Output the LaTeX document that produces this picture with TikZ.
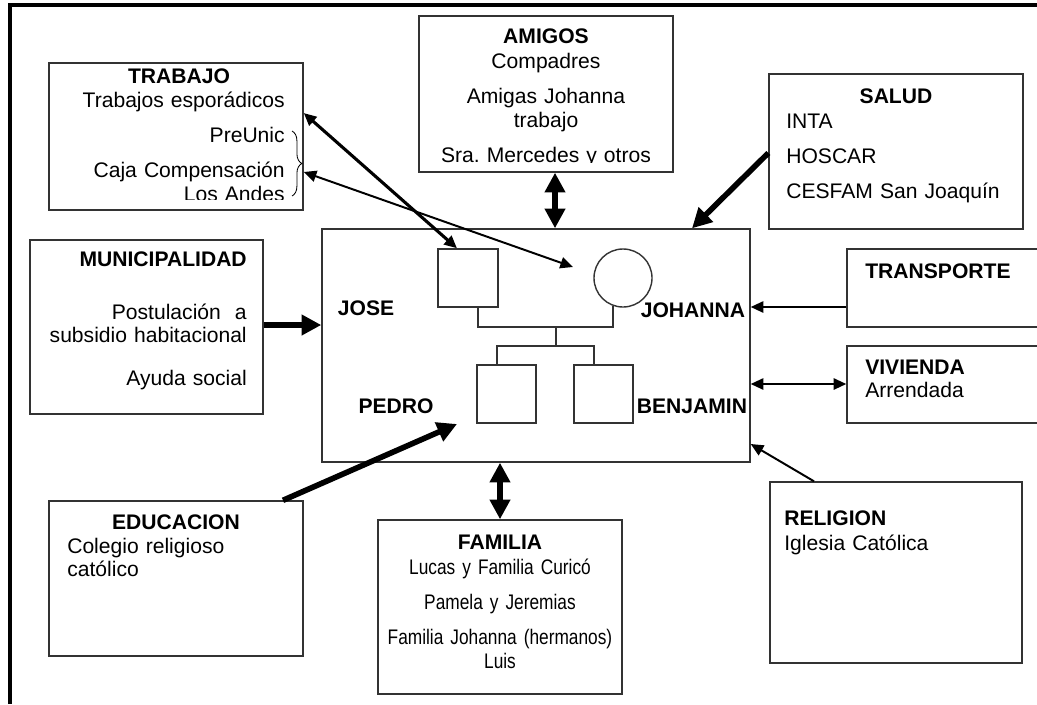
\documentclass[tikz,border=0pt]{standalone}
\usepackage{fontspec}
\setmainfont{Liberation Sans}
\newfontfamily\estrecha[FakeStretch=0.82]{Liberation Sans}
\usetikzlibrary{arrows.meta,fit,decorations.pathreplacing}

\tikzset{
  caja/.style={draw=black!80, line width=1pt, inner sep=0pt},
  titulo/.style={font=\fontsize{15}{17}\selectfont\bfseries, inner sep=0pt, anchor=base},
  texto/.style={font=\fontsize{15}{17}\selectfont, inner sep=0pt, text width=200pt},
  linea/.style={draw=black!80, line width=1pt},
  punta/.tip={Triangle[length=9pt,width=8pt]},
  puntagruesa/.tip={Triangle[length=14pt,width=14pt]},
  fina/.style={line width=1.4pt, -punta},
  doblefina/.style={line width=1.4pt, punta-punta},
  media/.style={line width=2.2pt, punta-punta},
  gruesa/.style={line width=4pt, -puntagruesa},
  doblegruesa/.style={line width=3.6pt, puntagruesa-puntagruesa}
}

\begin{document}
\begin{tikzpicture}[x=0.025cm, y=-0.025cm]
  \useasboundingbox (0,0) rectangle (1037,704);
  \clip (0,0) rectangle (1037,704);
  \draw[line width=2.2pt] (10,704) -- (10,5) -- (1037,5);

  % cajas
  \node[caja, fit={(49,63) (303,210)}] (trabajo) {};
  \node[caja, fit={(419,16) (673,172)}] (amigos) {};
  \node[caja, fit={(769,74) (1023,229)}] (salud) {};
  \node[caja, fit={(322,229) (750,462)}] (centro) {};
  \node[caja, fit={(30,240) (263,414)}] (muni) {};
  \node[caja, fit={(847,249) (1050,327)}] (transporte) {};
  \node[caja, fit={(847,346) (1050,423)}] (vivienda) {};
  \node[caja, fit={(49,501) (303,656)}] (educacion) {};
  \node[caja, fit={(378,520) (622,694)}] (familia) {};
  \node[caja, fit={(770,482) (1022,663)}] (religion) {};

  % textos
  \node[titulo] (trabajo-t) at (179,83) {TRABAJO};
  \begin{scope}
    \clip (49,63) rectangle (303,199);
    \node[texto, align=right, anchor=base east] (trabajo-x) at (285,107)
      {Trabajos esporádicos\\[8pt] PreUnic\\[8pt] Caja Compensación\\ Los Andes};
  \end{scope}
  \draw[line width=0.6pt, decorate, decoration={brace, amplitude=7pt}] (292,131) -- (292,196);

  \node[titulo] (amigos-t) at (546,43) {AMIGOS};
  \begin{scope}
    \clip (419,16) rectangle (673,162);
    \node[texto, align=center, anchor=base] (amigos-x) at (546,68)
      {Compadres\\[8pt] Amigas Johanna\\ trabajo\\[8pt] Sra.\ Mercedes y otros};
  \end{scope}

  \node[titulo] (salud-t) at (896,103) {SALUD};
  \node[texto, align=left, anchor=base west] (salud-x) at (786,128)
    {INTA\\[8pt] HOSCAR\\[8pt] CESFAM San Joaquín};

  \node[titulo, anchor=base east] (muni-t) at (247,266) {MUNICIPALIDAD};
  \node[texto, align=right, anchor=base east] (muni-x) at (247,319)
    {Postulación\ \ a\\ subsidio habitacional\\[13pt] Ayuda social};

  \node[titulo, anchor=base west] (transporte-t) at (865,278) {TRANSPORTE};
  \node[titulo, anchor=base west] (vivienda-t) at (865,374) {VIVIENDA};
  \node[texto, align=left, anchor=base west] (vivienda-x) at (865,397) {Arrendada};

  \node[titulo] (educacion-t) at (176,529) {EDUCACION};
  \node[texto, align=left, anchor=base west] (educacion-x) at (67,553)
    {Colegio religioso\\ católico};

  \node[titulo] (familia-t) at (500,549) {FAMILIA};
  \node[texto, font=\estrecha\fontsize{15}{17}\selectfont, align=center, anchor=base] (familia-x) at (500,574)
    {Lucas y Familia Curicó\\[8pt] Pamela y Jeremias\\[8pt] Familia Johanna (hermanos)\\ Luis};

  \node[titulo, anchor=base west] (religion-t) at (784,525) {RELIGION};
  \node[texto, align=left, anchor=base west] (religion-x) at (784,550) {Iglesia Católica};

  % familia nuclear
  \node[caja, fit={(438,249) (498,307)}] (jose) {};
  \node[caja, circle, minimum size=1.45cm] (johanna) at (623,278) {};
  \node[caja, fit={(477,365) (536,423)}] (pedro) {};
  \node[caja, fit={(574,365) (633,423)}] (benjamin) {};
  \coordinate (pareja) at (556,327);
  \coordinate (hijos) at (556,346);
  \draw[linea] (jose.south -| 478,0) |- (pareja) -| (johanna.-110);
  \draw[linea] (pareja) -- (hijos);
  \draw[linea] (pedro.north -| 497,0) |- (hijos) -| (benjamin.north -| 594,0);

  \node[titulo] (jose-n) at (366,315) {JOSE};
  \node[titulo] (johanna-n) at (693,317) {JOHANNA};
  \node[titulo] (pedro-n) at (396,413) {PEDRO};
  \node[titulo] (benjamin-n) at (692,413) {BENJAMIN};

  % relaciones
  \coordinate (mira) at (573,267);
  \coordinate (hacia) at (457,424);
  \draw[media] (trabajo.east |- 0,113) -- (jose.north -| 457,0);
  \draw[doblefina] (trabajo.east |- 0,172) -- (mira);
  \draw[doblegruesa] (amigos.south -| 555,0) -- (centro.north -| 555,0);
  \draw[gruesa] (salud.west |- 0,153) -- (centro.north -| 692,0);
  \draw[gruesa] (muni.east |- 0,325) -- (centro.west |- 0,325);
  \draw[fina] (transporte.west |- 0,307) -- (centro.east |- 0,307);
  \draw[doblefina] (vivienda.west |- 0,384) -- (centro.east |- 0,384);
  \draw[fina] (religion.north -| 814,0) -- (centro.east |- 0,444);
  \draw[gruesa] (educacion.north -| 283,0) -- (hacia);
  \draw[doblegruesa] (centro.south -| 500,0) -- (familia.north -| 500,0);
\end{tikzpicture}
\end{document}
